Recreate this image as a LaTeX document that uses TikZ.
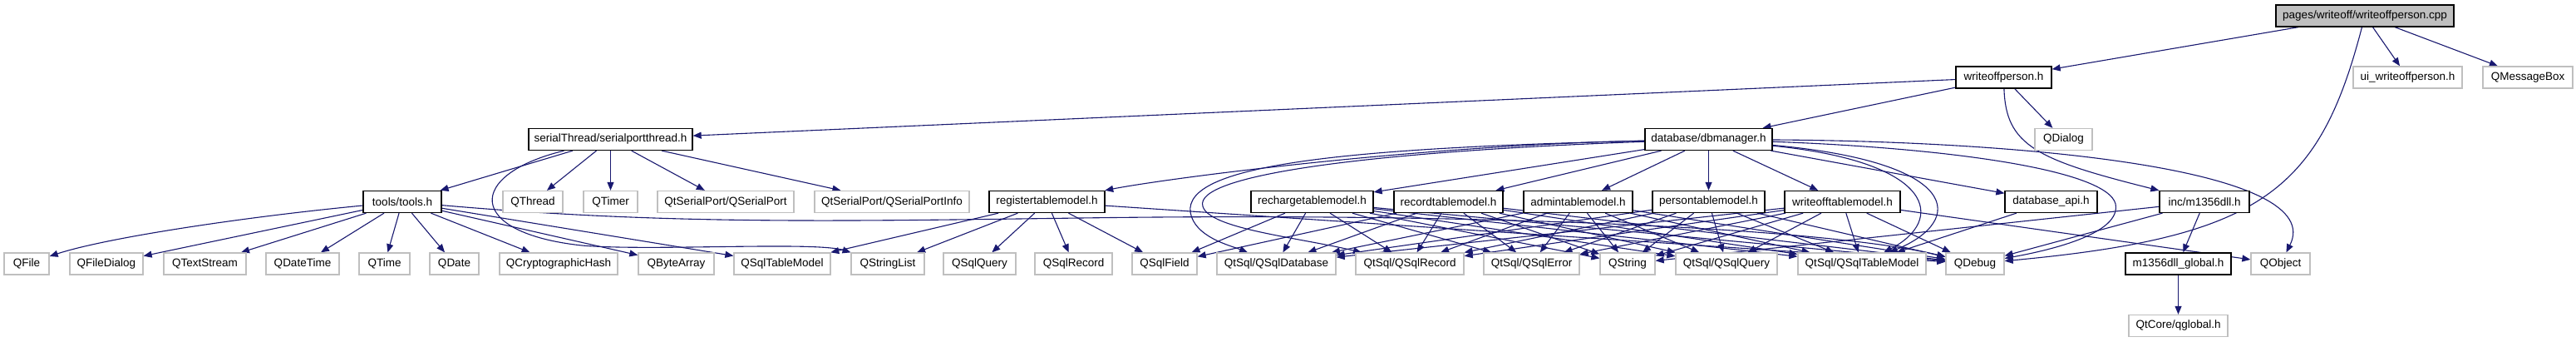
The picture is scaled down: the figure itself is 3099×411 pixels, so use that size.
\documentclass[tikz,border=0pt]{standalone}
\usepackage{fontspec}
\setmainfont{Liberation Sans}
\usetikzlibrary{arrows.meta}
\definecolor{edgecol}{HTML}{191970}
\definecolor{graybd}{HTML}{BFBFBF}
\pgfdeclarelayer{back}
\pgfdeclarelayer{bg}
\pgfsetlayers{back,bg,main}
\begin{document}
\begin{tikzpicture}[x=1pt,y=-1pt,
 base/.style={rectangle,inner sep=0pt,minimum height=26pt,font=\fontsize{13.5}{16}\selectfont,line width=1.3pt},
 doc/.style={base,draw=black,fill=white},
 ext/.style={base,draw=graybd,fill=white},
 root/.style={base,draw=black,fill=graybd},
 e/.style={draw=edgecol,line width=1.1pt,-{Triangle[length=10pt,width=8pt]}}]
\begin{pgfonlayer}{back}
\useasboundingbox[fill=white] (0,0) rectangle (3099,411);
\end{pgfonlayer}
% row 0
\node[root,minimum width=214pt] (P) at (2845,19) {pages/writeoff/writeoffperson.cpp};
% row 1
\node[doc,minimum width=115pt] (WP) at (2410.5,93) {writeoffperson.h};
\node[ext,minimum width=131pt] (UI) at (2896.5,93) {ui\_writeoffperson.h};
\node[ext,minimum width=108pt] (MB) at (3041,93) {QMessageBox};
% row 2
\node[doc,minimum width=197pt] (SPT) at (734.5,167.5) {serialThread/serialportthread.h};
\node[doc,minimum width=153pt] (DBM) at (2055.5,167.5) {database/dbmanager.h};
\node[ext,minimum width=69pt] (QDialog) at (2482.5,167.5) {QDialog};
% row 3
\node[doc,minimum width=94pt] (tools) at (484,242.5) {tools/tools.h};
\node[ext,minimum width=72pt] (QThread) at (641,242.5) {QThread};
\node[ext,minimum width=65pt] (QTimer) at (734.5,242.5) {QTimer};
\node[ext,minimum width=164pt] (QSP) at (873,242.5) {QtSerialPort/QSerialPort};
\node[ext,minimum width=186pt] (QSPI) at (1073,242.5) {QtSerialPort/QSerialPortInfo};
\node[doc,minimum width=139pt] (reg) at (1259.5,242.5) {registertablemodel.h};
\node[doc,minimum width=147pt] (rech) at (1578.5,242.5) {rechargetablemodel.h};
\node[doc,minimum width=131pt] (rec) at (1742.5,242.5) {recordtablemodel.h};
\node[doc,minimum width=131pt] (adm) at (1898.5,242.5) {admintablemodel.h};
\node[doc,minimum width=135pt] (per) at (2055.5,242.5) {persontablemodel.h};
\node[doc,minimum width=139pt] (wotm) at (2216.5,242.5) {writeofftablemodel.h};
\node[doc,minimum width=111pt] (dbapi) at (2467.5,242.5) {database\_api.h};
\node[doc,minimum width=108pt] (m1356) at (2652,242.5) {inc/m1356dll.h};
% row 4
\node[ext,minimum width=54pt] (QFile) at (32,317) {QFile};
\node[ext,minimum width=88pt] (QFileDialog) at (128,317) {QFileDialog};
\node[ext,minimum width=99pt] (QTextStream) at (246.5,317) {QTextStream};
\node[ext,minimum width=88pt] (QDateTime) at (364,317) {QDateTime};
\node[ext,minimum width=61pt] (QTime) at (462.5,317) {QTime};
\node[ext,minimum width=59pt] (QDate) at (546.5,317) {QDate};
\node[ext,minimum width=142pt] (QCH) at (672,317) {QCryptographicHash};
\node[ext,minimum width=91pt] (QByteArray) at (813.5,317) {QByteArray};
\node[ext,minimum width=116pt] (QSqlTableModel) at (941,317) {QSqlTableModel};
\node[ext,minimum width=88pt] (QStringList) at (1068,317) {QStringList};
\node[ext,minimum width=87pt] (QSqlQuery) at (1178.5,317) {QSqlQuery};
\node[ext,minimum width=93pt] (QSqlRecord) at (1291.5,317) {QSqlRecord};
\node[ext,minimum width=78pt] (QSqlField) at (1401,317) {QSqlField};
\node[ext,minimum width=143pt] (QtDB) at (1535.5,317) {QtSql/QSqlDatabase};
\node[ext,minimum width=130pt] (QtRec) at (1696,317) {QtSql/QSqlRecord};
\node[ext,minimum width=115pt] (QtErr) at (1842.5,317) {QtSql/QSqlError};
\node[ext,minimum width=66pt] (QString) at (1958,317) {QString};
\node[ext,minimum width=122pt] (QtQuery) at (2077,317) {QtSql/QSqlQuery};
\node[ext,minimum width=154pt] (QtTM) at (2240,317) {QtSql/QSqlTableModel};
\node[ext,minimum width=70pt] (QDebug) at (2376,317) {QDebug};
\node[doc,minimum width=127pt] (mglob) at (2620.5,317) {m1356dll\_global.h};
\node[ext,minimum width=71pt] (QObject) at (2743.5,317) {QObject};
% row 5
\node[ext,minimum width=119pt] (qglobal) at (2620.5,391.5) {QtCore/qglobal.h};

\begin{pgfonlayer}{bg}
\foreach \a/\b in {P/WP,P/UI,P/MB,WP/QDialog,WP/DBM,WP/SPT,
  SPT/tools,SPT/QThread,SPT/QTimer,SPT/QSP,SPT/QSPI,
  tools/QFileDialog,tools/QTextStream,tools/QDateTime,tools/QTime,tools/QDate,tools/QCH,tools/QByteArray,tools/QSqlTableModel,
  reg/QSqlTableModel,reg/QStringList,reg/QSqlQuery,reg/QSqlRecord,reg/QSqlField,reg/QDebug,
  rech/QSqlField,rec/QSqlField,
  DBM/rech,DBM/rec,DBM/adm,DBM/per,DBM/wotm,DBM/dbapi,
  wotm/QObject,dbapi/QtTM,m1356/mglob,m1356/QDebug,m1356/QString,mglob/qglobal}
  \draw[e] (\a) -- (\b);
\foreach \a in {rech,rec,adm,per,wotm}
  \foreach \b in {QtDB,QtRec,QtErr,QString,QtQuery,QtTM,QDebug}
    \draw[e] (\a) -- (\b);
% curved connectors
\draw[e] (tools) .. controls (300,260) and (130,285) .. (QFile);
\draw[e] (P) .. controls (2790,230) and (2720,285) .. (QDebug);
\draw[e] (WP) .. controls (2413,175) and (2450,192) .. (m1356);
\draw[e] (SPT) .. controls (560,210) and (560,280) .. (700,295) .. controls (780,302) and (980,290) .. (QStringList);
\draw[e] (tools) .. controls (800,270) and (1000,266) .. (1300,262) .. controls (1800,255) and (2200,275) .. (QDebug);
\draw[e] (DBM) .. controls (1700,175) and (1400,215) .. (reg);
\draw[e] (DBM) .. controls (1600,178) and (1425,200) .. (1432,255) .. controls (1437,285) and (1480,295) .. (QtDB);
\draw[e] (DBM) .. controls (1650,182) and (1435,210) .. (1447,248) .. controls (1455,275) and (1560,285) .. (QtRec);
\draw[e] (DBM) .. controls (2450,170) and (2800,205) .. (QObject);
\draw[e] (DBM) .. controls (2350,178) and (2535,205) .. (2545,245) .. controls (2552,280) and (2470,300) .. (QDebug);
\draw[e] (DBM) .. controls (2330,195) and (2340,265) .. (QtTM);
\draw[e] (DBM) .. controls (2360,195) and (2365,265) .. (QtTM);
\end{pgfonlayer}
\end{tikzpicture}
\end{document}
